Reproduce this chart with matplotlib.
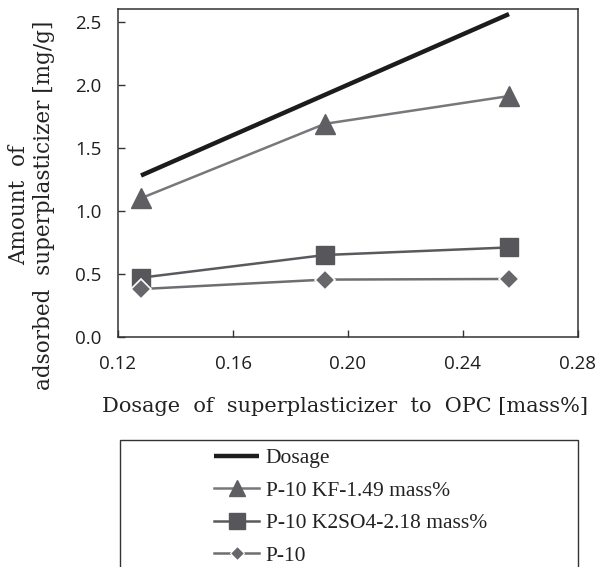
import matplotlib
matplotlib.use("Agg")
import matplotlib.pyplot as plt
from matplotlib.patches import Rectangle

x = [0.128, 0.192, 0.256]
dosage = [1.28, 1.92, 2.56]
kf = [1.10, 1.69, 1.91]
k2so4 = [0.47, 0.65, 0.71]
p10 = [0.38, 0.455, 0.46]
labels = ["Dosage", "P-10 KF-1.49 mass%", "P-10 K2SO4-2.18 mass%", "P-10"]
xticks = [0.12, 0.16, 0.20, 0.24, 0.28]
yticks = [0.0, 0.5, 1.0, 1.5, 2.0, 2.5]

W, H = 597, 567
fig = plt.figure(figsize=(W/100, H/100), dpi=100)
ax = fig.add_axes([118/W, 1-337/H, (578-118)/W, (337-9)/H])

ax.plot(x, dosage, color="#1c1c1c", lw=3.2, solid_capstyle="butt", label=labels[0])
ax.plot(x, kf, color="#78787c", lw=1.8, marker="^", ms=14, mfc="#5f5f63", mec="#5f5f63", label=labels[1])
ax.plot(x, k2so4, color="#5a5a5e", lw=1.8, marker="s", ms=13, mfc="#57575b", mec="#57575b", label=labels[2])
ax.plot(x, p10, color="#6e6e72", lw=1.8, marker="D", ms=10, mfc="#67676b", mec="white", mew=1.2, label=labels[3])

ax.set_xlim(0.12, 0.28)
ax.set_ylim(0, 2.6)
ax.set_xticks(xticks)
ax.set_xticklabels([f"{v:.2f}" for v in xticks])
ax.set_yticks(yticks)
ax.set_yticklabels([f"{v:.1f}" for v in yticks])
ax.tick_params(direction="in", length=5, width=1, colors="#333333", labelcolor="#1e1e1e")
ax.tick_params(axis="x", pad=13, labelsize=13.5)
ax.tick_params(axis="y", pad=12, labelsize=13.5)
for lab in ax.get_xticklabels() + ax.get_yticklabels():
    lab.set_fontfamily("Open Sans")
for s in ax.spines.values():
    s.set_color("#333333")
    s.set_linewidth(1.1)

lab_font = "DejaVu Serif"
fig.text(345/W, 1-407/H, "Dosage  of  superplasticizer  to  OPC [mass%]", ha="center", va="center",
         fontsize=15, family=lab_font, color="#222222")
fig.text(19/W, 1-205/H, "Amount  of", rotation=90, ha="center", va="center",
         fontsize=15.5, family=lab_font, color="#222222")
fig.text(44/W, 1-205/H, "adsorbed  superplasticizer [mg/g]", rotation=90, ha="center", va="center",
         fontsize=15.5, family=lab_font, color="#222222")

fig.patches.append(Rectangle((120/W, -0.05), (578-120)/W, 1-440/H+0.05, transform=fig.transFigure,
                             fill=False, edgecolor="#333333", lw=1.0))
serif = "Liberation Serif"
handles, labs = ax.get_legend_handles_labels()
leg = fig.legend(handles, labs, loc="upper left", bbox_to_anchor=(214/W, 1-448/H),
                 frameon=False, prop={"family": serif, "size": 15.5}, handlelength=2.1,
                 handletextpad=0.3, labelspacing=0.58, borderaxespad=0, borderpad=0)
for t in leg.get_texts():
    t.set_color("#222222")
lh = leg.legend_handles
lh[1].set_markersize(12)
lh[2].set_markersize(11)
lh[3].set_markersize(7)
lh[3].set_markeredgewidth(0.8)

fig.savefig("out.png", dpi=100)
